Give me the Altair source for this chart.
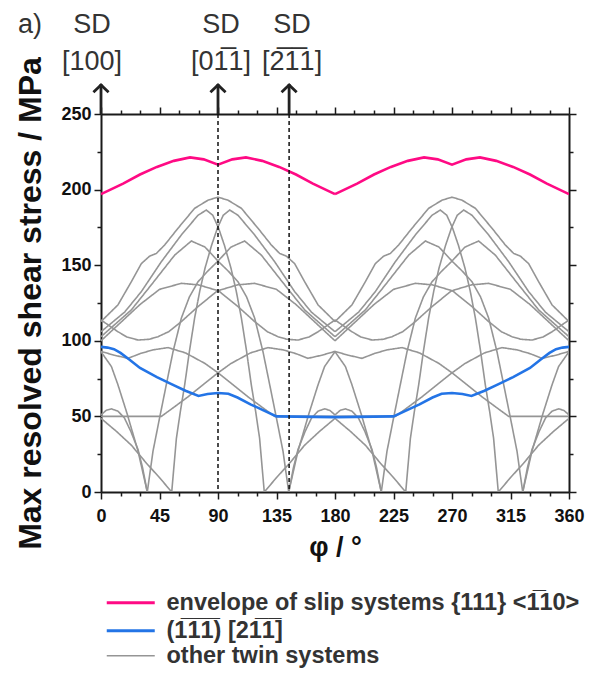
import altair as alt
import pandas as pd

# ---------------- data ----------------
# envelope of slip systems (one period, 0..180 deg; the picture repeats it 180..360)
env_phi = [0, 17, 30, 43, 56, 68.5, 79, 90, 101, 111.5, 124, 137, 150, 163, 180]
env_val = [197, 204, 210, 215, 219, 221.3, 220, 216.5, 220, 221.3, 219, 215, 210, 204, 197]

# (-1-1-1)[2-1-1] twin system, 0..360
blue_phi = [0, 5, 10, 15, 22, 30, 43, 55, 65, 75, 82, 90, 98, 105, 115, 125, 135, 180,
            225, 235, 245, 255, 262, 270, 278, 285, 295, 305, 317, 330, 338, 345, 350, 355, 360]
blue_val = [96, 95.5, 94.5, 92, 87.5, 82, 76, 71, 67, 63.5, 64.8, 65.5, 65, 62.5, 58, 54, 50, 49.5,
            50, 54, 58, 62.5, 65, 65.5, 64.8, 63.5, 67, 71, 76, 82, 87.5, 92, 94.5, 95.5, 96]

# other twin systems: read over 0..180 deg; "mirror" curves also appear reflected about 90 deg
gray = {
    "O": dict(phi=[0, 13, 23.3, 31, 37.4, 42.6, 49, 59.2, 72, 82.3, 90, 97.7, 108, 120.8, 131, 137.4, 142.6,
                   149, 156.7, 167, 180],
              val=[112.7, 123.7, 139, 151, 156, 157.8, 163.4, 174.4, 187.6, 193, 195, 193, 187.6, 174.4, 163.4,
                   157.8, 156, 151, 139, 123.7, 112.7],
              mirror=False),
    "N": dict(phi=[0, 18.2, 31, 46.4, 61.8, 74.6, 81, 86, 90.5, 95, 100, 104, 108, 112, 115.6, 119, 122, 125.6,
                   135, 145, 156.7, 168, 180],
              val=[106, 119, 132.5, 152.3, 170, 183, 186.5, 183, 174.4, 163, 148, 133, 115, 93, 71, 53, 35.5, 0,
                   9.5, 19, 31, 40, 48.7],
              mirror=True),
    "M": dict(phi=[0, 23.3, 38.7, 56.7, 69.5, 80, 90.5, 98, 105.4, 112, 118.2, 124.6, 130, 135, 140, 144.4,
                   151.5, 160, 167, 172, 180],
              val=[102.7, 120.4, 137, 156.7, 166, 162, 152.3, 146, 139, 129, 115, 92.8, 70, 48.7, 27, 0,
                   27, 52, 71, 83, 92.8],
              mirror=True),
    "L": dict(phi=[0, 15, 30, 45, 61.8, 75, 90.5, 105.4, 118.2, 128, 136.2, 143, 151.5, 160, 167, 180],
              val=[100, 112, 124, 134, 138, 137, 133, 122.6, 112.7, 106, 102.7, 101, 100.5, 102.5, 106, 113.8],
              mirror=True),
    "P": dict(phi=[0, 10, 20.8, 30, 40, 51.5, 65, 80, 90.5, 100, 113, 124, 133.6, 150, 180],
              val=[93, 90.5, 88.4, 91.5, 94, 95.5, 92, 85, 78.5, 72, 63, 56, 50, 50, 50],
              mirror=True),
    "S": dict(phi=[0, 4, 8, 13, 18, 23, 28.5, 32, 35.6],
              val=[51, 54, 55, 53.5, 49, 40, 28, 16, 0],
              mirror=True),
}

SERIES = ["envelope of slip systems {111} <1\u030510>",
          "(1\u03051\u03051\u0305) [21\u03051\u0305]"]
COLORS = ["#ff0a84", "#2374e6"]
GRAY_LABEL = "other twin systems"
GRAY = "#959595"

sd_phi = [0, 90, 144.7]
sd_top = ["SD", "SD", "SD"]
sd_bottom = ["[100]", "[01\u03051]", "[2\u03051\u03051]"]

# ---------------- build tables ----------------
rows = []
for name, c in gray.items():
    copies = [(c["phi"], c["val"])]
    if c["mirror"]:
        copies.append(([180 - p for p in c["phi"]], c["val"]))
    for k, (ph, vv) in enumerate(copies):
        for shift in (0, 180):
            cid = f"{name}{k}_{shift}"
            for p, v in zip(ph, vv):
                rows.append(dict(phi=p + shift, val=v, curve=cid, kind=GRAY_LABEL))
gray_df = pd.DataFrame(rows)

env_rows = []
for shift in (0, 180):
    for p, v in zip(env_phi, env_val):
        env_rows.append(dict(phi=p + shift, val=v, curve=f"env{shift}", series=SERIES[0]))
env_df = pd.DataFrame(env_rows)

blue_df = pd.DataFrame(dict(phi=blue_phi, val=blue_val, curve="blue", series=SERIES[1]))
sd_df = pd.DataFrame(dict(phi=sd_phi, top=sd_top, bottom=sd_bottom))
dash_df = pd.DataFrame(dict(phi=[90, 144.7]))

FONT = "Liberation Sans"
W, H = 468, 378

xscale = alt.Scale(domain=[0, 360], nice=False)
yscale = alt.Scale(domain=[0, 250], nice=False)
LEG = dict(title=None, orient="none", legendX=18, padding=0,
           symbolType="M -3 0 L 3 0", symbolSize=256, symbolOpacity=1,
           labelFont=FONT, labelFontSize=23.5, labelFontWeight="bold",
           labelColor="#333333", labelLimit=600, rowPadding=3, labelOffset=24)
color = alt.Color("series:N", scale=alt.Scale(domain=SERIES, range=COLORS),
                  legend=alt.Legend(legendY=477, symbolStrokeWidth=3.2, **LEG))
gray_dash = alt.StrokeDash("kind:N", scale=alt.Scale(domain=[GRAY_LABEL], range=[[1, 0]]),
                           legend=alt.Legend(legendY=530, symbolStrokeWidth=1.5,
                                             symbolStrokeColor=GRAY, **LEG))

TK = "#1a1a1a"
x_bottom = alt.Axis(values=list(range(0, 361, 15)),
                    labelExpr="datum.value % 45 == 0 ? datum.label : ''",
                    tickSize={"condition": {"test": "datum.value % 45 == 0", "value": 7}, "value": 4},
                    title="\u03c6 / \u00b0", titleFont=FONT, titleFontSize=27, titleFontWeight="bold",
                    titleColor="#111111", titlePadding=9,
                    labelFont=FONT, labelFontSize=18, labelFontWeight="bold", labelColor="#111111",
                    labelPadding=8, domainColor=TK, domainWidth=2, tickColor=TK,
                    tickWidth=1.5, grid=False, labelFlush=False)
x_top = alt.Axis(orient="top", values=list(range(0, 361, 15)), labels=False, title=None,
                 tickSize={"condition": {"test": "datum.value % 45 == 0", "value": 7}, "value": 4},
                 domainColor=TK, domainWidth=2, tickColor=TK, tickWidth=1.5, grid=False)
y_left = alt.Axis(values=list(range(0, 251, 25)),
                  labelExpr="datum.value % 50 == 0 ? datum.label : ''",
                  tickSize={"condition": {"test": "datum.value % 50 == 0", "value": 7}, "value": 4},
                  title="Max resolved shear stress / MPa", titleFont=FONT, titleFontSize=32,
                  titleFontWeight="bold", titleColor="#111111", titlePadding=13,
                  labelFont=FONT, labelFontSize=18, labelFontWeight="bold", labelColor="#111111",
                  labelPadding=3, domainColor=TK, domainWidth=2, tickColor=TK,
                  tickWidth=1.5, grid=False, labelFlush=False)
y_right = alt.Axis(orient="right", values=list(range(0, 251, 25)), labels=False, title=None,
                   tickSize={"condition": {"test": "datum.value % 50 == 0", "value": 7}, "value": 4},
                   domainColor=TK, domainWidth=2, tickColor=TK, tickWidth=1.5, grid=False)

gray_layer = alt.Chart(gray_df).mark_line(clip=True, color=GRAY, strokeWidth=1.6).encode(
    x=alt.X("phi:Q", scale=xscale, axis=x_bottom),
    y=alt.Y("val:Q", scale=yscale, axis=y_left),
    strokeDash=gray_dash, detail="curve:N")

blue_layer = alt.Chart(blue_df).mark_line(clip=True, strokeWidth=2.6).encode(
    x=alt.X("phi:Q", scale=xscale, axis=None),
    y=alt.Y("val:Q", scale=yscale, axis=None),
    color=color, detail="curve:N")

env_layer = alt.Chart(env_df).mark_line(clip=True, strokeWidth=2.6).encode(
    x=alt.X("phi:Q", scale=xscale, axis=None),
    y=alt.Y("val:Q", scale=yscale, axis=y_right),
    color=color, detail="curve:N")

dash_layer = alt.Chart(dash_df).mark_rule(color="#111111", strokeDash=[4, 3], strokeWidth=1.5).encode(
    x=alt.X("phi:Q", scale=xscale, axis=x_top))

shaft_layer = alt.Chart(sd_df).mark_rule(color="#222222", strokeWidth=2.8, clip=False).encode(
    x=alt.X("phi:Q", scale=xscale, axis=None), y=alt.value(-30), y2=alt.value(0))

head_layer = alt.Chart(sd_df).mark_point(shape="M -1 0.95 L 0 0 L 1 0.95", filled=False, color="#222222",
                                          strokeWidth=2.8, size=230, opacity=1, clip=False).encode(
    x=alt.X("phi:Q", scale=xscale, axis=None), y=alt.value(-29))


def sd_labels(field, ypix):
    first = alt.Chart(sd_df).transform_filter("datum.phi == 0").mark_text(
        font=FONT, fontSize=27, color="#333333", baseline="alphabetic", align="center", dx=-9).encode(
        x=alt.X("phi:Q", scale=xscale, axis=None), y=alt.value(ypix), text=f"{field}:N")
    rest = alt.Chart(sd_df).transform_filter("datum.phi > 0").mark_text(
        font=FONT, fontSize=27, color="#333333", baseline="alphabetic", align="center", dx=3).encode(
        x=alt.X("phi:Q", scale=xscale, axis=None), y=alt.value(ypix), text=f"{field}:N")
    return [first, rest]


panel = alt.Chart(pd.DataFrame(dict(t=["a)"]))).mark_text(
    font=FONT, fontSize=27, color="#333333", baseline="alphabetic", align="left").encode(
    x=alt.value(-83), y=alt.value(-81), text="t:N")

chart = alt.layer(gray_layer, blue_layer, env_layer, dash_layer, shaft_layer, head_layer,
                  *sd_labels("top", -81), *sd_labels("bottom", -44), panel).resolve_axis(
    x="independent", y="independent").properties(
    width=W, height=H,
    padding={"left": 93, "top": 106, "right": 17, "bottom": 181},
    autosize=alt.AutoSizeParams(type="none"),
).configure_view(stroke=None).configure(background="white")

chart.save("out.html", embed_options={"renderer": "svg", "actions": False})
